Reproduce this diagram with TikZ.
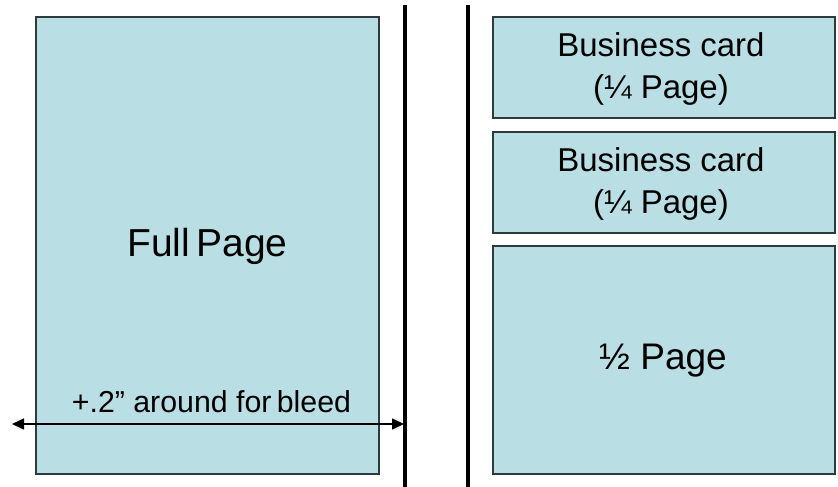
\documentclass[tikz,border=0pt]{standalone}
\usepackage{fontspec}
\setmainfont{Liberation Sans}
\usetikzlibrary{arrows.meta}
\definecolor{boxfill}{HTML}{B9DFE4}
\definecolor{boxline}{HTML}{2F3A3C}
\begin{document}
\begin{tikzpicture}[x=1pt,y=-1pt,
  pagebox/.style={draw=boxline,line width=1.3pt,fill=boxfill},
  divider/.style={line width=4pt,black},
  lbl/.style={inner sep=0pt,align=center,text=black}]
\useasboundingbox (0,0) rectangle (838,487);
% full page
\draw[pagebox] (36,17) rectangle (379,474);
\node[lbl,font=\fontsize{39}{42}\selectfont] (full) at (207.5,246) {Full\hspace{-0.12em} Page};
% dividers
\coordinate (d1t) at (405,5); \coordinate (d1b) at (405,487);
\coordinate (d2t) at (468,5); \coordinate (d2b) at (468,487);
\draw[divider] (d1t) -- (d1b);
\draw[divider] (d2t) -- (d2b);
% right boxes
\draw[pagebox] (493,17) rectangle (835,118);
\node[lbl,font=\fontsize{33}{42}\selectfont] (bc1) at (661,69) {Business card\\(¼ Page)};
\draw[pagebox] (493,132) rectangle (835,233);
\node[lbl,font=\fontsize{33}{42}\selectfont] (bc2) at (661,184) {Business card\\(¼ Page)};
\draw[pagebox] (493,246) rectangle (835,474);
\node[lbl,font=\fontsize{37}{40}\selectfont] (half) at (663,361) {½ Page};
% bleed arrow
\coordinate (al) at (12,424);
\coordinate (ar) at (404,424);
\draw[line width=1.5pt,{Triangle[length=12pt,width=11pt]}-{Triangle[length=12pt,width=11pt]}] (al) -- (ar);
\node[lbl,font=\fontsize{30.3}{32}\selectfont,anchor=base] (bleed) at (211.5,412) {+.2” around for\hspace{-0.1em} bleed};
\end{tikzpicture}
\end{document}
